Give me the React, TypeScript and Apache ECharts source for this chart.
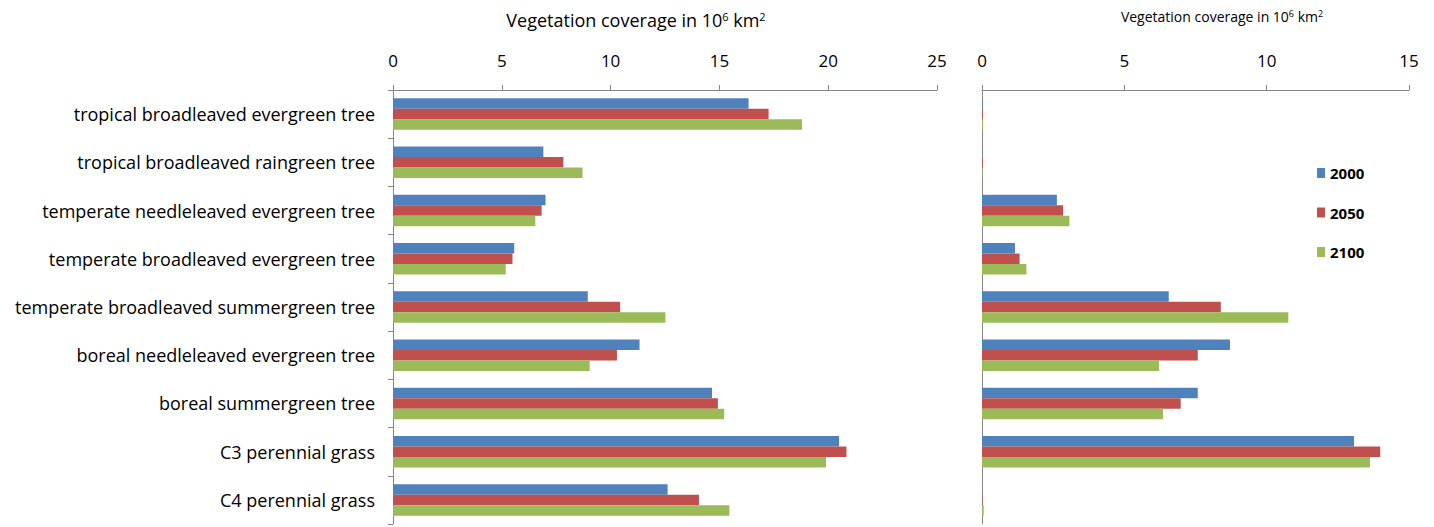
import React, { useEffect, useRef } from "react";
import * as echarts from "echarts";

const categories = [
  "tropical broadleaved evergreen tree",
  "tropical broadleaved raingreen tree",
  "temperate needleleaved evergreen tree",
  "temperate broadleaved evergreen tree",
  "temperate broadleaved summergreen tree",
  "boreal needleleaved evergreen tree",
  "boreal summergreen tree",
  "C3 perennial grass",
  "C4 perennial grass",
];

const years = ["2000", "2050", "2100"];
const colors = ["#4F81BD", "#C0504D", "#9BBB59"];

// left panel
const left2000 = [16.34, 6.91, 7.01, 5.57, 8.95, 11.33, 14.66, 20.5, 12.62];
const left2050 = [17.26, 7.83, 6.83, 5.49, 10.44, 10.29, 14.93, 20.84, 14.06];
const left2100 = [18.8, 8.71, 6.54, 5.18, 12.52, 9.04, 15.22, 19.9, 15.46];

// right panel
const right2000 = [0.02, 0.01, 2.63, 1.16, 6.56, 8.71, 7.58, 13.07, 0.0];
const right2050 = [0.03, 0.03, 2.85, 1.32, 8.39, 7.58, 6.98, 13.99, 0.02];
const right2100 = [0.04, 0.02, 3.07, 1.56, 10.76, 6.22, 6.36, 13.63, 0.06];

const leftTicks = { min: 0, max: 25, interval: 5 };
const rightTicks = { min: 0, max: 15, interval: 5 };

const FONT = "'Open Sans', 'Noto Sans', sans-serif";

export default function App() {
  const ref = useRef<HTMLDivElement>(null);
  useEffect(() => {
    if (!ref.current) return;
    const chart = echarts.init(ref.current, null, { renderer: "svg" });
    const leftData = [left2000, left2050, left2100];
    const rightData = [right2000, right2050, right2100];
    const axisGray = "#868686";
    const series: any[] = [];
    years.forEach((y, i) => {
      series.push({
        name: y,
        type: "bar",
        xAxisIndex: 0,
        yAxisIndex: 0,
        data: leftData[i],
        barWidth: 10.5,
        barGap: "0%",
        itemStyle: { color: colors[i] },
      });
    });
    years.forEach((y, i) => {
      series.push({
        name: y,
        type: "bar",
        xAxisIndex: 1,
        yAxisIndex: 1,
        data: rightData[i],
        barWidth: 10.5,
        barGap: "0%",
        itemStyle: { color: colors[i] },
      });
    });
    chart.setOption({
      animation: false,
      backgroundColor: "#fff",
      textStyle: { fontFamily: FONT },
      grid: [
        { left: 393, right: 497, top: 90, bottom: 3, containLabel: false },
        { left: 982, right: 25, top: 90, bottom: 3, containLabel: false },
      ],
      legend: {
        orient: "vertical",
        left: 1317,
        top: 163,
        padding: 0,
        itemWidth: 8,
        itemHeight: 10,
        itemGap: 19.5,
        icon: "rect",
        data: years,
        textStyle: { fontSize: 15, fontWeight: "bold", color: "#000", fontFamily: FONT, lineHeight: 20 },
      },
      xAxis: [
        {
          type: "value",
          gridIndex: 0,
          position: "top",
          ...leftTicks,
          axisLine: { show: true, lineStyle: { color: axisGray } },
          axisTick: { show: true, length: 5, lineStyle: { color: axisGray } },
          splitLine: { show: false },
          axisLabel: { fontSize: 17, color: "#000", margin: 21, fontFamily: FONT },
        },
        {
          type: "value",
          gridIndex: 1,
          position: "top",
          ...rightTicks,
          axisLine: { show: true, lineStyle: { color: axisGray } },
          axisTick: { show: true, length: 5, lineStyle: { color: axisGray } },
          splitLine: { show: false },
          axisLabel: { fontSize: 17, color: "#000", margin: 21, fontFamily: FONT },
        },
      ],
      yAxis: [
        {
          type: "category",
          gridIndex: 0,
          inverse: true,
          data: categories,
          axisLine: { show: true, lineStyle: { color: axisGray } },
          axisTick: { show: true, length: 5, lineStyle: { color: axisGray } },
          axisLabel: { fontSize: 18, color: "#000", margin: 18, fontFamily: FONT },
        },
        {
          type: "category",
          gridIndex: 1,
          inverse: true,
          data: categories,
          axisLine: { show: true, lineStyle: { color: axisGray } },
          axisTick: { show: false },
          axisLabel: { show: false },
        },
      ],
      graphic: [
        {
          type: "text",
          x: 636,
          y: 20,
          style: {
            text: "Vegetation coverage in 10{sup|6} km{sup|2}",
            rich: {
              sup: { fontSize: 11, verticalAlign: "top", padding: [0, 0, 8, 0], fontFamily: FONT, fill: "#000" },
            },
            font: `18px ${FONT}`,
            fill: "#000",
            align: "center",
            verticalAlign: "middle",
          } as any,
        },
        {
          type: "text",
          x: 1222,
          y: 16,
          style: {
            text: "Vegetation coverage in 10{sup|6} km{sup|2}",
            rich: { sup: { fontSize: 9, verticalAlign: "top", padding: [0, 0, 6, 0], fontFamily: FONT, fill: "#000" } },
            font: `14px ${FONT}`,
            fill: "#000",
            align: "center",
            verticalAlign: "middle",
          } as any,
        },
      ],
      series,
    });
    return () => chart.dispose();
  }, []);
  return <div ref={ref} style={{ width: 1434, height: 527, position: "absolute", left: 0, top: 0 }} />;
}
